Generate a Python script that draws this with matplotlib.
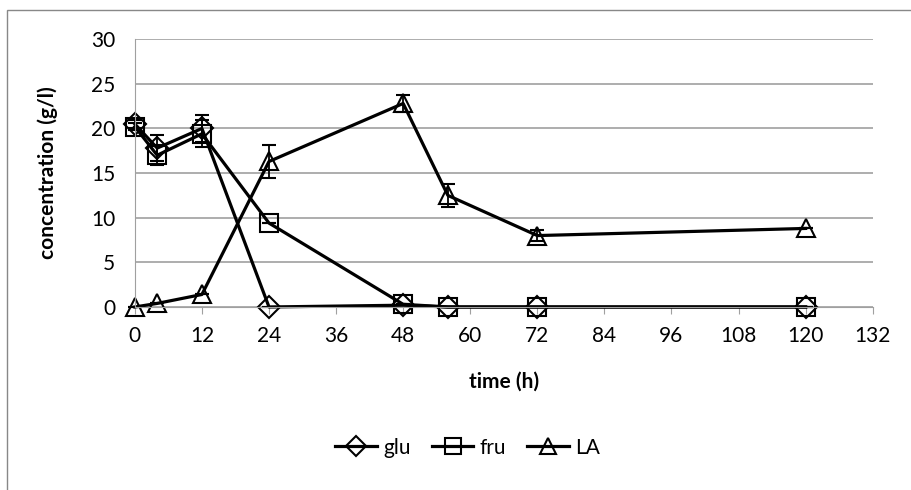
import matplotlib.pyplot as plt
import matplotlib.patches as mpatches
from matplotlib.lines import Line2D

# sampling times (h)
time = [0, 4, 12, 24, 48, 56, 72, 120]

# concentrations (g/l)
glu = [20.5, 17.8, 20.0, 0.0, 0.2, 0.0, 0.0, 0.0]
fru = [20.2, 17.0, 19.4, 9.4, 0.3, 0.0, 0.0, 0.0]
la = [0.0, 0.4, 1.4, 16.3, 22.8, 12.5, 8.0, 8.8]

# standard deviations
glu_err = [0.4, 1.5, 1.5, 0.0, 0.0, 0.0, 0.0, 0.0]
fru_err = [0.4, 1.1, 1.5, 0.0, 0.0, 0.0, 0.0, 0.0]
la_err = [0.0, 0.0, 0.0, 1.9, 1.0, 1.3, 0.6, 0.0]

plt.rcParams['font.family'] = ['Lato', 'DejaVu Sans']

fig = plt.figure(figsize=(9.11, 4.9), dpi=100)
ax = fig.add_axes([0.148, 0.3735, 0.81, 0.5465])

# outer chart border
fig.patches.append(mpatches.Rectangle((0.008, -0.05), 1.1, 1.03, transform=fig.transFigure,
                                      fill=False, edgecolor='#888888', linewidth=1))

series = [
    (glu, glu_err, 'D', 11, 'glu'),
    (fru, fru_err, 's', 13, 'fru'),
    (la, la_err, '^', 13, 'LA'),
]
handles = []
for vals, err, mk, ms, name in series:
    ax.errorbar(time, vals, yerr=err, color='black', linewidth=2.3, marker=mk,
                markersize=ms, markerfacecolor='none', markeredgecolor='black',
                markeredgewidth=1.5, ecolor='black', elinewidth=1.3, capsize=5,
                capthick=1.3, clip_on=False)
    handles.append(Line2D([], [], color='black', linewidth=2.3, marker=mk,
                          markersize=ms - 1, markerfacecolor='none',
                          markeredgewidth=1.5, label=name))

ax.set_xlim(0, 132)
ax.set_ylim(0, 30)
ax.set_xticks(range(0, 133, 12))
ax.set_yticks(range(0, 31, 5))
ax.grid(True, axis='y', color='#a0a0a0', linewidth=1.2)
ax.set_axisbelow(True)
for s in ['top', 'right']:
    ax.spines[s].set_visible(False)
ax.spines['left'].set_color('#a0a0a0')
ax.spines['bottom'].set_color('#a0a0a0')
ax.tick_params(axis='x', length=5, color='#a0a0a0', labelsize=15, pad=9)
ax.tick_params(axis='y', length=0, labelsize=15, pad=14)

ax.set_xlabel('time (h)', fontsize=15, fontweight='bold', labelpad=18)
ax.set_ylabel('concentration (g/l)', fontsize=15, fontweight='bold', labelpad=24)

ax.legend(handles=handles, loc='center', bbox_to_anchor=(0.451, -0.525), ncol=3,
          frameon=False, fontsize=15, handlelength=2.0, columnspacing=1.0,
          handletextpad=0.3)

fig.savefig('out.png', dpi=100)
